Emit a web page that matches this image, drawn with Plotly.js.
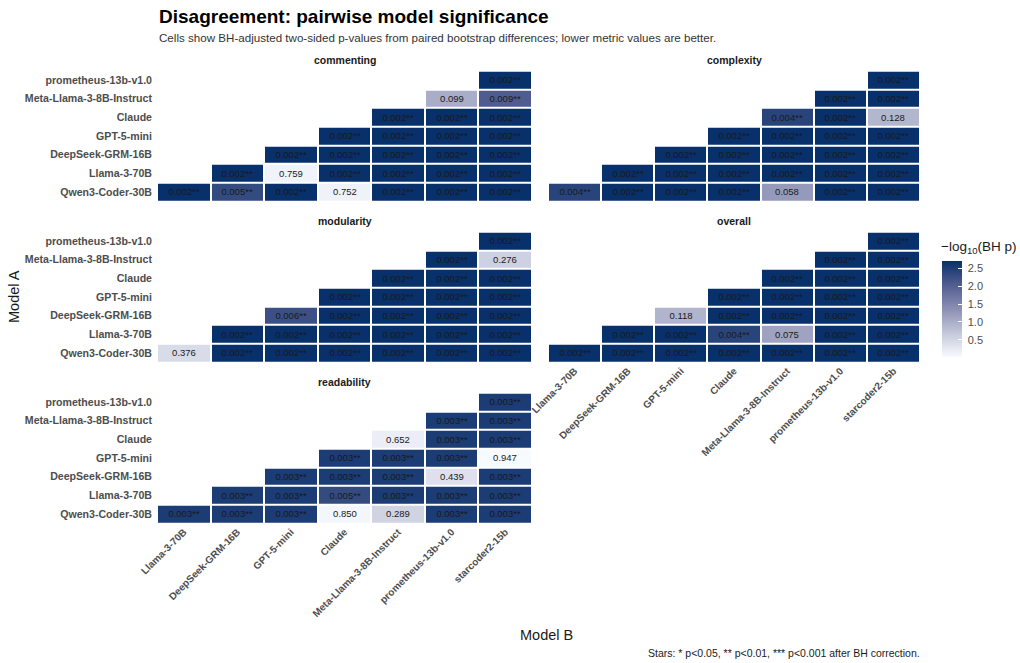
<!DOCTYPE html>
<html>
<head>
<meta charset="utf-8">
<script src="https://cdn.plot.ly/plotly-3.0.1.min.js"></script>
<style>html,body{margin:0;padding:0;background:#fff;}#chart{width:1020px;height:663px;}</style>
</head>
<body>
<div id="chart"></div>
<script>
// Model B (columns, left -> right)
const modelsB = ["Llama-3-70B","DeepSeek-GRM-16B","GPT-5-mini","Claude","Meta-Llama-3-8B-Instruct","prometheus-13b-v1.0","starcoder2-15b"];
// Model A (rows, bottom -> top)
const modelsA = ["Qwen3-Coder-30B","Llama-3-70B","DeepSeek-GRM-16B","GPT-5-mini","Claude","Meta-Llama-3-8B-Instruct","prometheus-13b-v1.0"];

const metrics = ["commenting","complexity","modularity","overall","readability"];

// BH-adjusted p-values; rows follow modelsA, columns follow modelsB
const pCommenting = [
  [0.002,0.005,0.002,0.752,0.002,0.002,0.002],
  [null,0.002,0.759,0.002,0.002,0.002,0.002],
  [null,null,0.002,0.002,0.002,0.002,0.002],
  [null,null,null,0.002,0.002,0.002,0.002],
  [null,null,null,null,0.002,0.002,0.002],
  [null,null,null,null,null,0.099,0.009],
  [null,null,null,null,null,null,0.002]
];
const pComplexity = [
  [0.004,0.002,0.002,0.002,0.058,0.002,0.002],
  [null,0.002,0.002,0.002,0.002,0.002,0.002],
  [null,null,0.002,0.002,0.002,0.002,0.002],
  [null,null,null,0.002,0.002,0.002,0.002],
  [null,null,null,null,0.004,0.002,0.128],
  [null,null,null,null,null,0.002,0.002],
  [null,null,null,null,null,null,0.002]
];
const pModularity = [
  [0.376,0.002,0.002,0.002,0.002,0.002,0.002],
  [null,0.002,0.002,0.002,0.002,0.002,0.002],
  [null,null,0.006,0.002,0.002,0.002,0.002],
  [null,null,null,0.002,0.002,0.002,0.002],
  [null,null,null,null,0.002,0.002,0.002],
  [null,null,null,null,null,0.002,0.276],
  [null,null,null,null,null,null,0.002]
];
const pOverall = [
  [0.002,0.002,0.002,0.002,0.002,0.002,0.002],
  [null,0.002,0.002,0.004,0.075,0.002,0.002],
  [null,null,0.118,0.002,0.002,0.002,0.002],
  [null,null,null,0.002,0.002,0.002,0.002],
  [null,null,null,null,0.002,0.002,0.002],
  [null,null,null,null,null,0.002,0.002],
  [null,null,null,null,null,null,0.002]
];
const pReadability = [
  [0.003,0.003,0.003,0.850,0.289,0.003,0.003],
  [null,0.003,0.003,0.005,0.003,0.003,0.003],
  [null,null,0.003,0.003,0.003,0.439,0.003],
  [null,null,null,0.003,0.003,0.003,0.947],
  [null,null,null,null,0.652,0.003,0.003],
  [null,null,null,null,null,0.003,0.003],
  [null,null,null,null,null,null,0.003]
];
const pByMetric = [pCommenting,pComplexity,pModularity,pOverall,pReadability];
const legendTicks = [0.5,1.0,1.5,2.0,2.5];

const W = 1020, H = 663;
const px = x => x / W;
const py = y => 1 - y / H;

// panel pixel boxes
const colX = [[157,532],[548,920]];
const rowY = [[70.7,201.3],[231.7,362.3],[392.7,523.3]];
const panelPos = [[0,0],[1,0],[0,1],[1,1],[0,2]];
const showX = [false,false,false,true,true];
const showY = [true,false,true,false,true];
// axis ids: "overall" drawn last so its tick labels stay on top
const axisNum = [1,2,3,5,4];

function stars(p){ return p < 0.001 ? "***" : p < 0.01 ? "**" : p < 0.05 ? "*" : ""; }

const allZ = [];
pByMetric.forEach(m => m.forEach(r => r.forEach(v => { if (v !== null) allZ.push(-Math.log10(v)); })));
const zmin = Math.min(...allZ), zmax = Math.max(...allZ);

const font = "Liberation Sans, Arial, Helvetica, sans-serif";
const traces = [];
const layout = {
  width: W, height: H,
  margin: {l:0,r:0,t:0,b:0},
  paper_bgcolor: "#ffffff", plot_bgcolor: "rgba(0,0,0,0)",
  font: {family: font, color: "#1a1a1a"},
  showlegend: false,
  coloraxis: {
    cmin: zmin, cmax: zmax,
    colorscale: [[0,"#f7fbff"],[0.25,"#c4c7da"],[0.5,"#8b90b3"],[0.75,"#525d8f"],[1,"#08306b"]],
    colorbar: {
      x: px(942), xanchor: "left", xpad: 0,
      y: py(309), yanchor: "middle", ypad: 0,
      len: 96, lenmode: "pixels", thickness: 20,
      outlinewidth: 0,
      ticks: "inside", ticklen: 4, tickcolor: "#ffffff", tickwidth: 1,
      tickvals: legendTicks, ticktext: legendTicks.map(v => " " + v.toFixed(1)),
      tickfont: {size: 11, color: "#4d4d4d", family: font}
    }
  },
  annotations: []
};

metrics.forEach((name, i) => {
  const pv = pByMetric[i];
  const z = pv.map(r => r.map(v => v === null ? null : -Math.log10(v)));
  const txt = pv.map(r => r.map(v => v === null ? "" : v.toFixed(3) + stars(v)));
  const n = axisNum[i];
  const xa = "x" + (n === 1 ? "" : n), ya = "y" + (n === 1 ? "" : n);
  traces.push({
    type: "heatmap", x: modelsB, y: modelsA, z: z, text: txt,
    texttemplate: "%{text}", textfont: {size: 9.5, color: "#1a1a1a", family: font},
    coloraxis: "coloraxis", xgap: 2, ygap: 2, xaxis: xa, yaxis: ya,
    hovertemplate: "A: %{y}<br>B: %{x}<br>p = %{text}<extra>" + name + "</extra>"
  });
  const [c, r] = panelPos[i];
  const [x0, x1] = colX[c], [y0, y1] = rowY[r];
  const axKeyX = "xaxis" + (n === 1 ? "" : n), axKeyY = "yaxis" + (n === 1 ? "" : n);
  layout[axKeyX] = {
    domain: [px(x0), px(x1)], anchor: ya, type: "category",
    categoryorder: "array", categoryarray: modelsB, range: [-0.5, 6.5],
    showgrid: false, zeroline: false, showline: false, ticks: "",
    showticklabels: showX[i], tickangle: -45, ticklabelstandoff: 0,
    tickfont: {size: 10, color: "#4d4d4d", family: font, weight: "bold"},
    fixedrange: true
  };
  layout[axKeyY] = {
    domain: [py(y1), py(y0)], anchor: xa, type: "category",
    categoryorder: "array", categoryarray: modelsA, range: [-0.5, 6.5],
    showgrid: false, zeroline: false, showline: false, ticks: "",
    showticklabels: showY[i], ticklabelstandoff: 4,
    tickfont: {size: 10.6, color: "#4d4d4d", family: font, weight: "bold"},
    fixedrange: true
  };
  layout.annotations.push({
    text: "<b>" + name + "</b>", xref: "paper", yref: "paper",
    x: px((x0 + x1) / 2), y: py(y0 - 11), xanchor: "center", yanchor: "middle",
    showarrow: false, font: {size: 10.5, color: "#1a1a1a", family: font}
  });
});

layout.annotations.push(
  {text: "<b>Disagreement: pairwise model significance</b>", xref: "paper", yref: "paper",
   x: px(157), y: py(16), xanchor: "left", yanchor: "middle", showarrow: false,
   font: {size: 19, color: "#000000", family: font}},
  {text: "Cells show BH-adjusted two-sided p-values from paired bootstrap differences; lower metric values are better.",
   xref: "paper", yref: "paper", x: px(157), y: py(37), xanchor: "left", yanchor: "middle",
   showarrow: false, font: {size: 11.6, color: "#333333", family: font}},
  {text: "Model A", xref: "paper", yref: "paper", x: px(14), y: py(297), xanchor: "center", yanchor: "middle",
   textangle: -90, showarrow: false, font: {size: 14.5, color: "#1a1a1a", family: font}},
  {text: "Model B", xref: "paper", yref: "paper", x: px(546), y: py(635), xanchor: "center", yanchor: "middle",
   showarrow: false, font: {size: 14.5, color: "#1a1a1a", family: font}},
  {text: "Stars: * p<0.05, ** p<0.01, *** p<0.001 after BH correction.", xref: "paper", yref: "paper",
   x: px(922), y: py(653), xanchor: "right", yanchor: "middle", showarrow: false,
   font: {size: 10.5, color: "#1a1a1a", family: font}},
  {text: "\u2212log<sub>10</sub>(BH p)", xref: "paper", yref: "paper", x: px(939), y: py(247),
   xanchor: "left", yanchor: "middle", showarrow: false, font: {size: 13.5, color: "#1a1a1a", family: font}}
);

Plotly.newPlot("chart", traces, layout, {displayModeBar: false, staticPlot: true});
</script>
</body>
</html>
